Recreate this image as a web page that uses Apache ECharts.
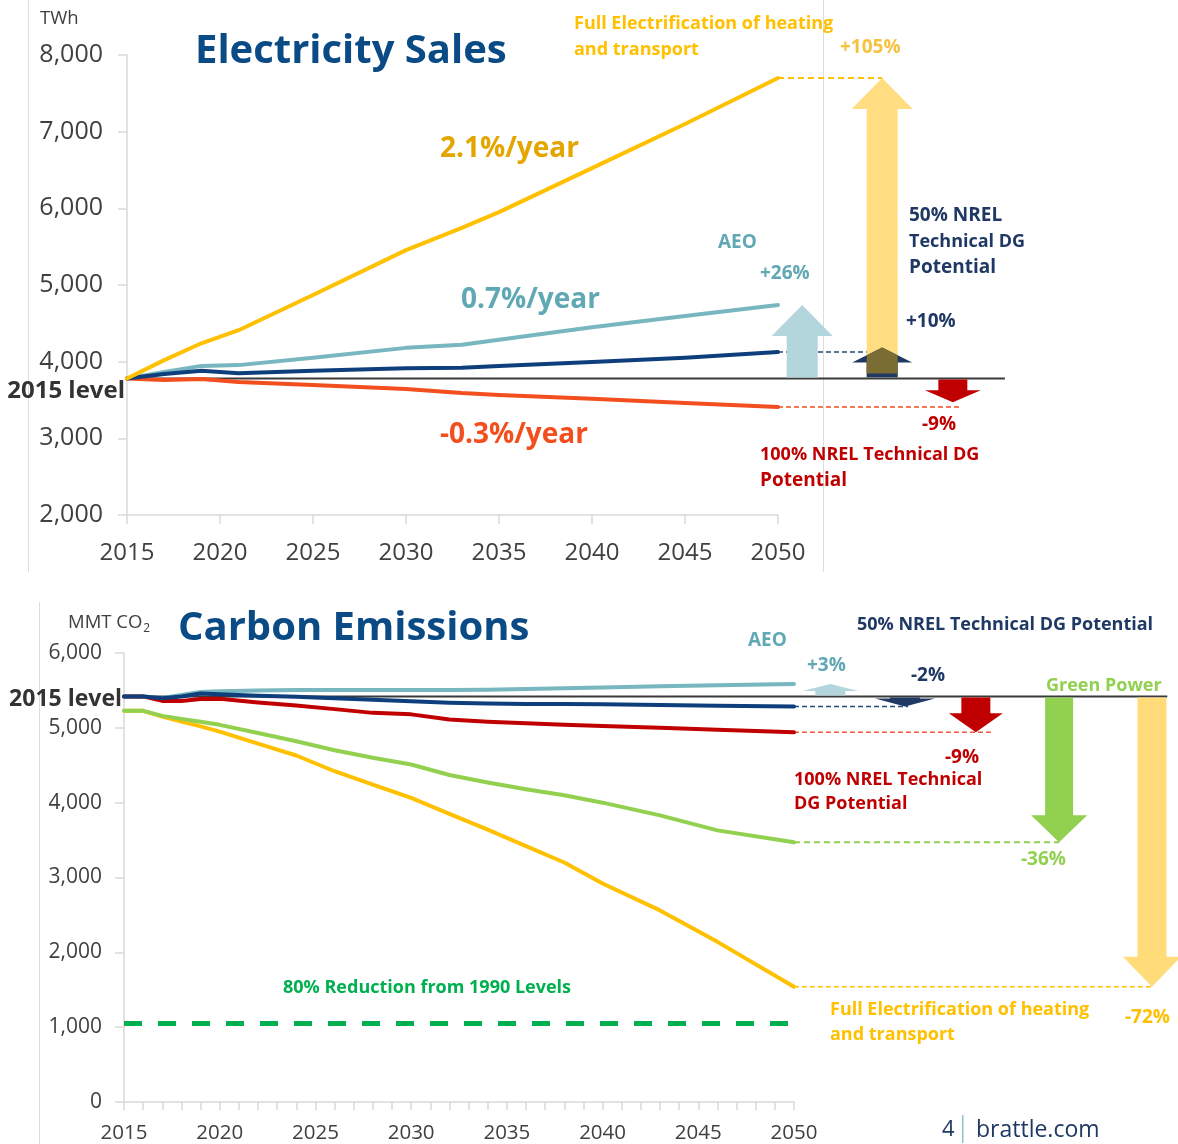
<!DOCTYPE html>
<html><head><meta charset="utf-8">
<script src="https://cdn.jsdelivr.net/npm/echarts@6/dist/echarts.min.js"></script>
<style>html,body{margin:0;padding:0;background:#fff}#c{width:1178px;height:1144px}</style>
</head><body><div id="c"></div>
<script>
// ---------- DATA: Electricity Sales (TWh) ----------
const salesYears    = [2015, 2017, 2019, 2021, 2025, 2030, 2033, 2035, 2040, 2045, 2050];
const salesFullElec = [3780, 4020, 4240, 4410, 4870, 5455, 5745, 5950, 6525, 7100, 7700];
const salesAEO      = [3780, 3865, 3945, 3955, 4050, 4180, 4220, 4285, 4450, 4595, 4740];
const salesNREL50   = [3780, 3840, 3880, 3850, 3880, 3915, 3920, 3945, 3995, 4050, 4125];
const salesNREL100  = [3780, 3760, 3775, 3735, 3695, 3645, 3590, 3565, 3515, 3460, 3410];
const sales2015Level = 3780;

// ---------- DATA: Carbon Emissions (MMT CO2) ----------
const emisYears    = [2015, 2016, 2017, 2018, 2019, 2020, 2022, 2024, 2026, 2028, 2030, 2032, 2034, 2036, 2038, 2040, 2043, 2046, 2050];
const emisAEO      = [5420, 5420, 5400, 5440, 5480, 5490, 5500, 5505, 5505, 5505, 5505, 5505, 5510, 5520, 5530, 5540, 5555, 5570, 5585];
const emisNREL50   = [5420, 5420, 5395, 5420, 5460, 5450, 5430, 5415, 5395, 5375, 5355, 5335, 5325, 5320, 5320, 5315, 5305, 5295, 5285];
const emisNREL100  = [5420, 5420, 5360, 5360, 5385, 5390, 5340, 5300, 5250, 5200, 5180, 5110, 5080, 5060, 5040, 5025, 5000, 4975, 4940];
const emisGreen    = [5227, 5227, 5160, 5120, 5080, 5040, 4930, 4820, 4700, 4600, 4510, 4370, 4270, 4180, 4100, 4000, 3830, 3630, 3470];
const emisFullElec = [5227, 5227, 5150, 5085, 5020, 4950, 4790, 4630, 4420, 4240, 4065, 3850, 3640, 3420, 3200, 2920, 2560, 2140, 1540];
const emis2015Level = 5420;
const emisTarget1990 = 1050;

// ---------- helpers ----------
const FONT = '"Open Sans", "Noto Sans", sans-serif';
const last = a => a[a.length - 1];
const pairs = (xs, ys) => xs.map((x, i) => [x, ys[i]]);
const mctx = document.createElement('canvas').getContext('2d');
const textW = (t, font) => { mctx.font = font; return mctx.measureText(t).width; };

function lineSeries(xi, xs, ys, color, width, z, dash) {
  return { type: 'line', xAxisIndex: xi, yAxisIndex: xi, data: pairs(xs, ys), symbol: 'none',
    showSymbol: false, silent: true, z: z || 3, animation: false,
    lineStyle: { color, width, cap: dash ? 'butt' : 'round', join: 'round', type: dash || 'solid' } };
}
function segSeries(xi, x0, x1, y, color, width, dash, z) {
  return { type: 'custom', xAxisIndex: xi, yAxisIndex: xi, clip: false, silent: true, z: z || 2,
    data: [[x0, x1, y]],
    renderItem: (p, api) => {
      const a = api.coord([api.value(0), api.value(2)]);
      const b = api.coord([api.value(1), api.value(2)]);
      return { type: 'line', shape: { x1: a[0], y1: a[1], x2: b[0], y2: b[1] },
        style: { stroke: color, lineWidth: width, lineDash: dash || null } };
    } };
}
function arrowSeries(xi, x, from, to, o, z) {
  return { type: 'custom', xAxisIndex: xi, yAxisIndex: xi, clip: false, silent: true, z: z || 4,
    data: [[x, from, to]],
    renderItem: (p, api) => {
      const b = api.coord([api.value(0), api.value(1)]);
      const t = api.coord([api.value(0), api.value(2)]);
      const cx = b[0], yb = b[1] + (o.baseOffset || 0), yt = t[1];
      const dir = yt < yb ? 1 : -1;
      const sw = o.shaft / 2, hw = o.head / 2, yh = yt + dir * o.headLen;
      const pts = [[cx - sw, yb], [cx - sw, yh], [cx - hw, yh], [cx, yt], [cx + hw, yh], [cx + sw, yh], [cx + sw, yb]];
      const children = [{ type: 'polygon', shape: { points: pts }, style: { fill: o.color } }];
      if (o.overlay) {
        const ye = yt + dir * o.headLen * (sw / hw);
        const ys = yb - o.overlay.stripe;
        children.push({ type: 'polygon', shape: { points: [[cx - sw, ye], [cx, yt], [cx + sw, ye], [cx + sw, ys], [cx - sw, ys]] },
          style: { fill: o.overlay.color } });
      }
      return { type: 'group', children };
    } };
}
const TEXT_DY = 2;
function txt(x, y, text, font, fill, align) {
  return { type: 'text', x, y: y + TEXT_DY, z: 100, silent: true,
    style: { text, font, fill, align: align || 'left', verticalAlign: 'middle',
      textAlign: align || 'left', textVerticalAlign: 'middle' } };
}

const C = {
  gold: '#FFC000', goldDark: '#E3A600', teal: '#5FA8B4', navy: '#1F3864', red: '#C00000',
  orange: '#F24E1E', green: '#92D050', green2: '#00B050', axis: '#D9D9D9', label: '#404040'
};
const B19 = 'bold 19px ' + FONT;
const B18 = 'bold 18px ' + FONT;
const B28 = 'bold 28px ' + FONT;
const TITLE = 'bold 40px ' + FONT;
const UNIT = '18.5px ' + FONT;

const xAxisBase = (gi, interval, fs, margin, tickLen, fmt) => ({
  type: 'value', gridIndex: gi, min: 2015, max: 2050, interval,
  axisLine: { show: true, lineStyle: { color: C.axis, width: 1.5 } },
  axisTick: { show: true, length: tickLen, lineStyle: { color: C.axis, width: 1.5 } },
  splitLine: { show: false },
  axisLabel: { fontSize: fs, color: C.label, fontFamily: FONT, margin, formatter: fmt, showMinLabel: true, showMaxLabel: true }
});
const yAxisBase = (gi, min, max, fs, margin) => ({
  type: 'value', gridIndex: gi, min, max, interval: 1000,
  axisLine: { show: true, lineStyle: { color: C.axis, width: 1.5 } },
  axisTick: { show: true, length: 9, lineStyle: { color: C.axis, width: 1.5 } },
  splitLine: { show: false },
  axisLabel: { fontSize: fs, color: C.label, fontFamily: FONT, margin,
    formatter: v => v.toLocaleString('en-US') }
});

const lvTopEnd = 2062.2, lvBotEnd = 2069.5;
const coX = 68 + textW('MMT CO', UNIT) + 1;

const option = {
  animation: false,
  backgroundColor: '#ffffff',
  grid: [
    { left: 127, top: 55, width: 651, height: 460 },
    { left: 124, top: 653, width: 670, height: 450 }
  ],
  xAxis: [
    xAxisBase(0, 5, 24, 26, 9, v => String(v)),
    xAxisBase(1, 1, 20.5, 21, 8, v => (v % 5 === 0 ? String(v) : ''))
  ],
  yAxis: [
    yAxisBase(0, 2000, 8000, 25, 24),
    yAxisBase(1, 0, 6000, 21, 22)
  ],
  series: [
    // ----- top panel -----
    segSeries(0, 2015, lvTopEnd, sales2015Level, '#3A3A3A', 2, null, 2),
    lineSeries(0, salesYears, salesNREL100, C.orange, 4),
    lineSeries(0, salesYears, salesAEO, '#78B6C0', 4),
    lineSeries(0, salesYears, salesNREL50, '#0E3F7C', 4),
    lineSeries(0, salesYears, salesFullElec, C.gold, 4),
    segSeries(0, 2050, 2055.6, last(salesFullElec), C.gold, 2, [6, 4], 3),
    segSeries(0, 2050, 2054.8, last(salesNREL50), '#1F4E79', 1.5, [5, 3], 3),
    segSeries(0, 2050, 2059.8, last(salesNREL100), C.orange, 1.5, [5, 3], 3),
    arrowSeries(0, 2051.3, sales2015Level, last(salesAEO), { shaft: 31, head: 61, headLen: 31, color: '#B3D6DC', baseOffset: -1 }, 4),
    arrowSeries(0, 2055.6, sales2015Level, last(salesFullElec), { shaft: 31, head: 61, headLen: 31, color: '#FFDD80', baseOffset: -1 }, 4),
    arrowSeries(0, 2055.6, sales2015Level, last(salesNREL50) + 60, { shaft: 31, head: 60, headLen: 15, color: C.navy, baseOffset: -1,
      overlay: { color: '#7A6D33', stripe: 4 } }, 5),
    arrowSeries(0, 2059.4, sales2015Level, last(salesNREL100) + 60, { shaft: 29, head: 56, headLen: 12, color: C.red, baseOffset: 1 }, 5),
    // ----- bottom panel -----
    segSeries(1, 2015, lvBotEnd, emis2015Level, '#3A3A3A', 2, null, 2),
    lineSeries(1, [2015, 2050], [emisTarget1990, emisTarget1990], C.green2, 5, 3, [18, 16]),
    lineSeries(1, emisYears, emisFullElec, C.gold, 4),
    lineSeries(1, emisYears, emisGreen, C.green, 4),
    lineSeries(1, emisYears, emisAEO, '#78B6C0', 4),
    lineSeries(1, emisYears, emisNREL100, C.red, 4),
    lineSeries(1, emisYears, emisNREL50, '#0E3F7C', 4),
    segSeries(1, 2050, 2055.96, last(emisNREL50), '#1F4E79', 1.5, [5, 3], 3),
    segSeries(1, 2050, 2060.35, last(emisNREL100), '#F05A45', 1.5, [5, 3], 3),
    segSeries(1, 2050, 2063.85, last(emisGreen), C.green, 2, [6, 4], 3),
    segSeries(1, 2050, 2068.7, last(emisFullElec), C.gold, 1.5, [5, 3], 3),
    arrowSeries(1, 2051.9, emis2015Level, last(emisAEO), { shaft: 30, head: 56, headLen: 7, color: '#B3D6DC', baseOffset: -1 }, 4),
    arrowSeries(1, 2055.8, emis2015Level, last(emisNREL50), { shaft: 30, head: 60, headLen: 8, color: C.navy, baseOffset: 1 }, 4),
    arrowSeries(1, 2059.5, emis2015Level, last(emisNREL100), { shaft: 29, head: 54, headLen: 19, color: C.red, baseOffset: 1 }, 4),
    arrowSeries(1, 2063.85, emis2015Level, last(emisGreen), { shaft: 28, head: 56, headLen: 27, color: C.green, baseOffset: 1 }, 4),
    arrowSeries(1, 2068.7, emis2015Level, last(emisFullElec), { shaft: 29, head: 58, headLen: 30, color: '#FFDB7A', baseOffset: 1 }, 4)
  ],
  graphic: [
    // frame lines
    { type: 'line', z: 1, silent: true, shape: { x1: 28.5, y1: 0, x2: 28.5, y2: 572 }, style: { stroke: '#DDDDDD', lineWidth: 1 } },
    { type: 'line', z: 1, silent: true, shape: { x1: 823.5, y1: 0, x2: 823.5, y2: 572 }, style: { stroke: '#DDDDDD', lineWidth: 1 } },
    { type: 'line', z: 1, silent: true, shape: { x1: 39.5, y1: 602, x2: 39.5, y2: 1144 }, style: { stroke: '#DDDDDD', lineWidth: 1 } },
    // top panel texts
    txt(40, 17, 'TWh', UNIT, C.label),
    txt(195, 50, 'Electricity Sales', TITLE, '#0A4A85'),
    txt(574, 22, 'Full Electrification of heating', B18, C.gold),
    txt(574, 48, 'and transport', B18, C.gold),
    txt(840, 46, '+105%', B19, '#F5C242'),
    txt(440, 147, '2.1%/year', B28, C.goldDark),
    txt(718, 241, 'AEO', B19, C.teal),
    txt(760, 272, '+26%', B19, C.teal),
    txt(461, 298, '0.7%/year', B28, C.teal),
    txt(909, 214, '50% NREL', B19, C.navy),
    txt(909, 240, 'Technical DG', B18, C.navy),
    txt(909, 266, 'Potential', B19, C.navy),
    txt(906, 320, '+10%', B19, C.navy),
    txt(125, 389, '2015 level', 'bold 24px ' + FONT, '#333333', 'right'),
    txt(922, 423, '-9%', B19, C.red),
    txt(440, 433, '-0.3%/year', B28, C.orange),
    txt(760, 453, '100% NREL Technical DG', B18, C.red),
    txt(760, 479, 'Potential', B19, C.red),
    // bottom panel texts
    txt(68, 621, 'MMT CO', UNIT, C.label),
    txt(coX, 627, '2', '12px ' + FONT, C.label),
    txt(178, 627, 'Carbon Emissions', TITLE, '#0A4A85'),
    txt(857, 623, '50% NREL Technical DG Potential', B18, C.navy),
    txt(748, 639, 'AEO', B19, C.teal),
    txt(807, 664, '+3%', B19, C.teal),
    txt(911, 674, '-2%', B19, C.navy),
    txt(1046, 684, 'Green Power', B18, C.green),
    txt(122, 697, '2015 level', 'bold 23px ' + FONT, '#333333', 'right'),
    txt(945, 756, '-9%', B19, C.red),
    txt(794, 778, '100% NREL Technical', B18, C.red),
    txt(794, 802, 'DG Potential', B18, C.red),
    txt(1021, 858, '-36%', B19, C.green),
    txt(283, 986, '80% Reduction from 1990 Levels', B18, C.green2),
    txt(830, 1008, 'Full Electrification of heating', B18, C.gold),
    txt(830, 1033, 'and transport', B18, C.gold),
    txt(1125, 1016, '-72%', B19, C.gold),
    txt(942, 1128, '4', '22px ' + FONT, C.navy),
    { type: 'rect', z: 100, silent: true, shape: { x: 962, y: 1115, width: 1.5, height: 28 }, style: { fill: '#8FC3CC' } },
    txt(976, 1128, 'brattle.com', '23px ' + FONT, C.navy)
  ]
};
const chart = echarts.init(document.getElementById('c'), null, { renderer: 'canvas' });
chart.setOption(option);
</script></body></html>
